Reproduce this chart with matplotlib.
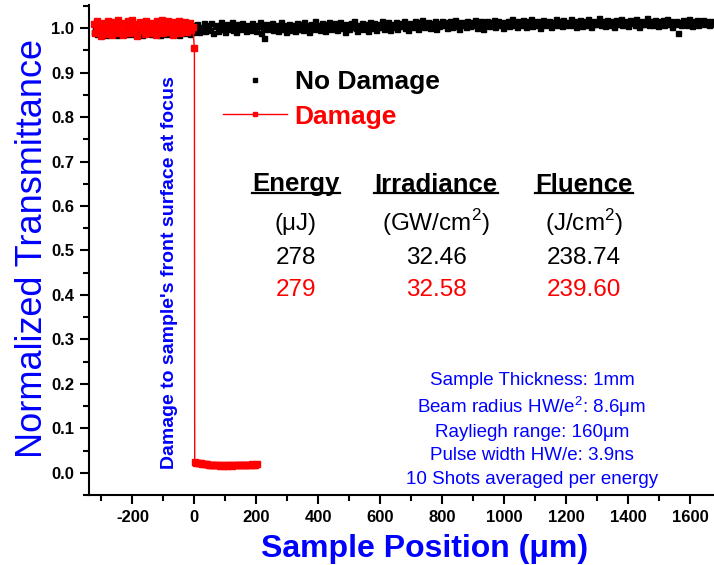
import numpy as np
import matplotlib.pyplot as plt
from matplotlib.ticker import MultipleLocator, FormatStrFormatter
from matplotlib.lines import Line2D

plt.rcParams['font.family'] = 'Liberation Sans'
plt.rcParams['mathtext.fontset'] = 'custom'
plt.rcParams['mathtext.rm'] = 'Liberation Sans'
plt.rcParams['mathtext.bf'] = 'Liberation Sans:bold'
plt.rcParams['axes.unicode_minus'] = False

BLUE = '#0000FF'
RED = '#FF0000'
W, H = 714, 565  # pixel size of the figure

# --- data ---
# No Damage scan: positions every 5 um
nodamage_pos = np.arange(-325, 1676, 5)
nodamage_T = [
    0.992, 1.004, 0.986, 0.999, 1.007, 0.990, 0.996, 1.002, 0.985, 0.998,
    1.005, 0.988, 0.995, 1.008, 0.993, 0.984, 1.001, 0.994, 1.006, 0.989,
    0.997, 0.987, 1.003, 0.995, 0.986, 1.007, 0.992, 1.000, 0.988, 1.004,
    0.996, 0.985, 1.005, 0.998, 0.990, 1.006, 0.993, 0.987, 1.002, 0.995,
    0.989, 1.007, 0.997, 0.984, 1.003, 0.994, 1.000, 0.986, 1.008, 0.991,
    0.999, 0.988, 1.005, 0.993, 1.001, 0.985, 1.006, 0.996, 0.990, 1.003,
    0.994, 0.998, 0.987, 1.004, 0.992,
    1.006, 0.995, 1.010, 0.991, 1.003, 0.998, 1.012, 0.993, 1.007, 1.000,
    0.996, 1.011, 0.990, 1.004, 1.008, 0.994, 1.001, 1.013, 0.997, 1.005,
    0.992, 1.009, 1.002, 0.998, 1.014, 0.995, 1.006, 0.991, 1.010, 1.003,
    0.997, 1.012, 1.000, 0.993, 1.008, 1.004, 0.996, 1.011, 0.999, 1.007,
    0.994, 1.005, 1.013, 0.990, 1.002, 0.978, 1.009, 0.997, 1.006, 1.001,
    1.011, 0.995, 1.004, 1.008, 0.993, 1.000, 1.014, 0.998, 1.006, 0.992,
    1.003, 1.010, 0.996, 1.007, 1.001, 0.994, 1.012, 1.005, 0.999, 1.009,
    0.995, 1.013, 1.002, 1.006, 0.991, 1.010, 1.004, 0.998, 1.015, 1.001,
    1.008, 0.996, 1.012, 1.003, 0.993, 1.009, 1.005, 1.014, 0.999, 1.006,
    1.002, 1.011, 0.995, 1.007, 1.013, 1.000, 1.004, 0.992, 1.010, 1.006,
    0.997, 1.012, 1.003, 1.015, 1.001, 0.994, 1.008, 1.005, 1.011, 0.998,
    1.009, 1.004, 0.993, 1.014, 1.007, 1.000, 1.012, 0.996, 1.006, 1.010,
    1.003, 1.016, 0.999, 1.008, 1.005, 1.013, 0.995, 1.010, 1.002, 1.007,
    1.014, 0.998, 1.011, 1.004, 1.009, 1.017, 1.001, 1.006, 0.996, 1.012,
    1.008, 1.003, 1.015, 1.010, 0.999, 1.013, 1.006, 1.018, 1.002, 1.009,
    1.005, 1.014, 1.000, 1.011, 1.007, 1.016, 0.997, 1.012, 1.004, 1.009,
    1.017, 1.006, 1.013, 1.001, 1.010, 1.015, 1.003, 1.008, 1.019, 1.005,
    1.011, 0.998, 1.014, 1.007, 1.012, 1.002, 1.016, 1.009, 1.004, 1.013,
    1.008, 1.018, 1.001, 1.011, 1.006, 1.015, 0.999, 1.012, 1.009, 1.017,
    1.004, 1.013, 1.008, 1.019, 1.002, 1.010, 1.015, 1.006, 1.012, 1.000,
    1.014, 1.009, 1.017, 1.004, 1.011, 1.020, 1.007, 1.013, 1.002, 1.016,
    1.010, 1.006, 1.018, 1.012, 1.003, 1.015, 1.009, 1.021, 1.005, 1.013,
    1.008, 1.017, 1.011, 1.001, 1.014, 1.019, 1.006, 1.012, 1.009, 1.016,
    1.003, 1.013, 1.010, 1.020, 1.007, 1.015, 1.011, 1.004, 1.018, 1.009,
    1.014, 1.006, 1.012, 1.021, 1.008, 1.016, 1.002, 1.013, 1.010, 1.019,
    1.005, 1.015, 1.011, 1.008, 1.020, 1.012, 1.003, 1.017, 1.009, 1.014,
    1.010, 1.022, 1.006, 1.013, 1.016, 1.004, 1.018, 1.011, 1.008, 1.015,
    1.012, 1.003, 1.019, 1.009, 1.014, 1.021, 1.007, 1.016, 1.010, 1.013,
    1.005, 1.018, 1.012, 1.015, 1.008, 1.020, 1.011, 1.003, 1.017, 1.009,
    1.014, 1.010, 1.022, 1.006, 1.013, 1.016, 1.008, 1.019, 1.012, 1.004,
    1.015, 1.011, 1.018, 1.007, 1.013, 1.021, 1.009, 1.016, 1.002, 1.012,
    1.010, 1.017, 0.989, 1.014, 1.006, 1.019, 1.011, 1.015, 1.008, 1.020,
    1.013, 1.005, 1.016, 1.010, 1.018, 1.007, 1.014, 1.011, 1.019, 1.009,
    1.015, 1.012, 1.006, 1.017, 1.010, 1.013,
]

# Damage scan: every 5 um before focus, drop at the focus, then every 5 um
damage_pos = np.concatenate([np.arange(-325, -4, 5), [0], np.arange(1, 202, 5)])
damage_T = [
    1.010, 0.989, 1.015, 0.995, 1.005, 0.982, 1.012, 0.999, 0.987, 1.017,
    0.993, 1.007, 0.984, 1.013, 1.001, 0.990, 1.018, 0.996, 1.006, 0.985,
    1.011, 0.994, 1.016, 0.988, 1.003, 1.019, 0.991, 1.009, 0.983, 1.002,
    1.014, 0.995, 1.007, 0.986, 1.017, 1.000, 0.990, 1.012, 0.997, 1.006,
    0.984, 1.015, 1.003, 0.993, 1.018, 0.989, 1.010, 0.999, 1.016, 0.992,
    1.007, 0.985, 1.013, 1.001, 0.994, 1.017, 0.988, 1.009, 0.996, 1.014,
    0.991, 1.005, 1.011, 0.995, 1.002,
    0.955,
    0.024, 0.023, 0.022, 0.022, 0.021, 0.020, 0.020, 0.019, 0.019, 0.018,
    0.018, 0.018, 0.017, 0.018, 0.017, 0.017, 0.016, 0.017, 0.017, 0.016,
    0.017, 0.016, 0.017, 0.017, 0.016, 0.017, 0.017, 0.018, 0.017, 0.017,
    0.018, 0.017, 0.018, 0.018, 0.017, 0.018, 0.018, 0.019, 0.018, 0.018,
    0.019,
]

# table of laser parameters
col_heads = ['Energy', 'Irradiance', 'Fluence']
col_units = ['(\u03bcJ)', '(GW/cm$^2$)', '(J/cm$^2$)']
nodamage_vals = ['278', '32.46', '238.74']
damage_vals = ['279', '32.58', '239.60']

info_lines = [
    'Sample Thickness: 1mm',
    'Beam radius HW/e$^2$: 8.6\u03bcm',
    'Rayliegh range: 160\u03bcm',
    'Pulse width HW/e: 3.9ns',
    '10 Shots averaged per energy',
]


def fx(px):
    return px / W


def fy(py):
    return 1 - py / H


fig = plt.figure(figsize=(W / 100, H / 100), dpi=100)
ax = fig.add_axes([fx(89.3), fy(495), 1 - fx(89.3), fy(5) - fy(495)])

ax.plot(nodamage_pos, nodamage_T, linestyle='none', marker='s', markersize=3.6,
        color='black', label='No Damage', zorder=2)
ax.plot(damage_pos, damage_T, linestyle='-', linewidth=1.0, marker='s', markersize=4.2,
        color=RED, label='Damage', zorder=3)

ax.set_xlim(-339, 1676)
ax.set_ylim(-0.050, 1.052)

ax.xaxis.set_major_locator(MultipleLocator(200))
ax.xaxis.set_minor_locator(MultipleLocator(100))
ax.yaxis.set_major_locator(MultipleLocator(0.1))
ax.yaxis.set_minor_locator(MultipleLocator(0.05))
ax.yaxis.set_major_formatter(FormatStrFormatter('%.1f'))

for side in ['top', 'right']:
    ax.spines[side].set_visible(False)
for side in ['left', 'bottom']:
    ax.spines[side].set_linewidth(1.5)

ax.tick_params(which='major', direction='out', length=6.5, width=1.5, pad=4.5)
ax.tick_params(which='minor', direction='out', length=4, width=1.5)
for lab in ax.get_xticklabels() + ax.get_yticklabels():
    lab.set_fontweight('bold')
    lab.set_fontsize(12)

# axis titles
fig.text(fx(41.7), fy(248.5), 'Normalized Transmittance', rotation=90,
         rotation_mode='anchor', ha='center', va='baseline',
         fontsize=26, color=BLUE)
fig.text(fx(425), fy(557), 'Sample Position (\u03bcm)', ha='center', va='baseline',
         fontsize=23, fontweight='bold', color=BLUE)

# annotation along the damage line
fig.text(fx(174), fy(272.5), "Damage to sample's front surface at focus", rotation=90,
         rotation_mode='anchor', ha='center', va='baseline',
         fontsize=14, fontweight='bold', color=BLUE)

leg = ax.legend(loc='upper left', bbox_to_anchor=(fx(222.7), fy(70)),
                bbox_transform=fig.transFigure, frameon=False, borderpad=0,
                borderaxespad=0, handlelength=2.42, handletextpad=0.31,
                labelspacing=0.4, labelcolor='linecolor', markerscale=0.85,
                prop={'size': 19, 'weight': 'bold'})

# parameter table
col_x = [296, 436, 584]
heads = []
for x, head, unit, v0, v1 in zip(col_x, col_heads, col_units, nodamage_vals, damage_vals):
    heads.append(fig.text(fx(x), fy(191.5), head, ha='center', va='baseline',
                          fontsize=18.5, fontweight='bold', color='black'))
    fig.text(fx(x), fy(230.5), unit, ha='center', va='baseline',
             fontsize=17.5, color='black')
    fig.text(fx(x), fy(264), v0, ha='center', va='baseline',
             fontsize=17.5, color='black')
    fig.text(fx(x), fy(296.5), v1, ha='center', va='baseline',
             fontsize=17.5, color=RED)

# sample / beam information
for yb, line in zip([385, 413, 437, 460.5, 484], info_lines):
    fig.text(fx(532), fy(yb), line, ha='center', va='baseline',
             fontsize=13.5, color=BLUE)

# underline the table headings
fig.canvas.draw()
renderer = fig.canvas.get_renderer()
for t in heads:
    bb = t.get_window_extent(renderer)
    fig.add_artist(Line2D([bb.x0 / W, bb.x1 / W], [fy(193.5), fy(193.5)],
                          transform=fig.transFigure, color='black', linewidth=1.6))

fig.savefig('out.png', dpi=100)
